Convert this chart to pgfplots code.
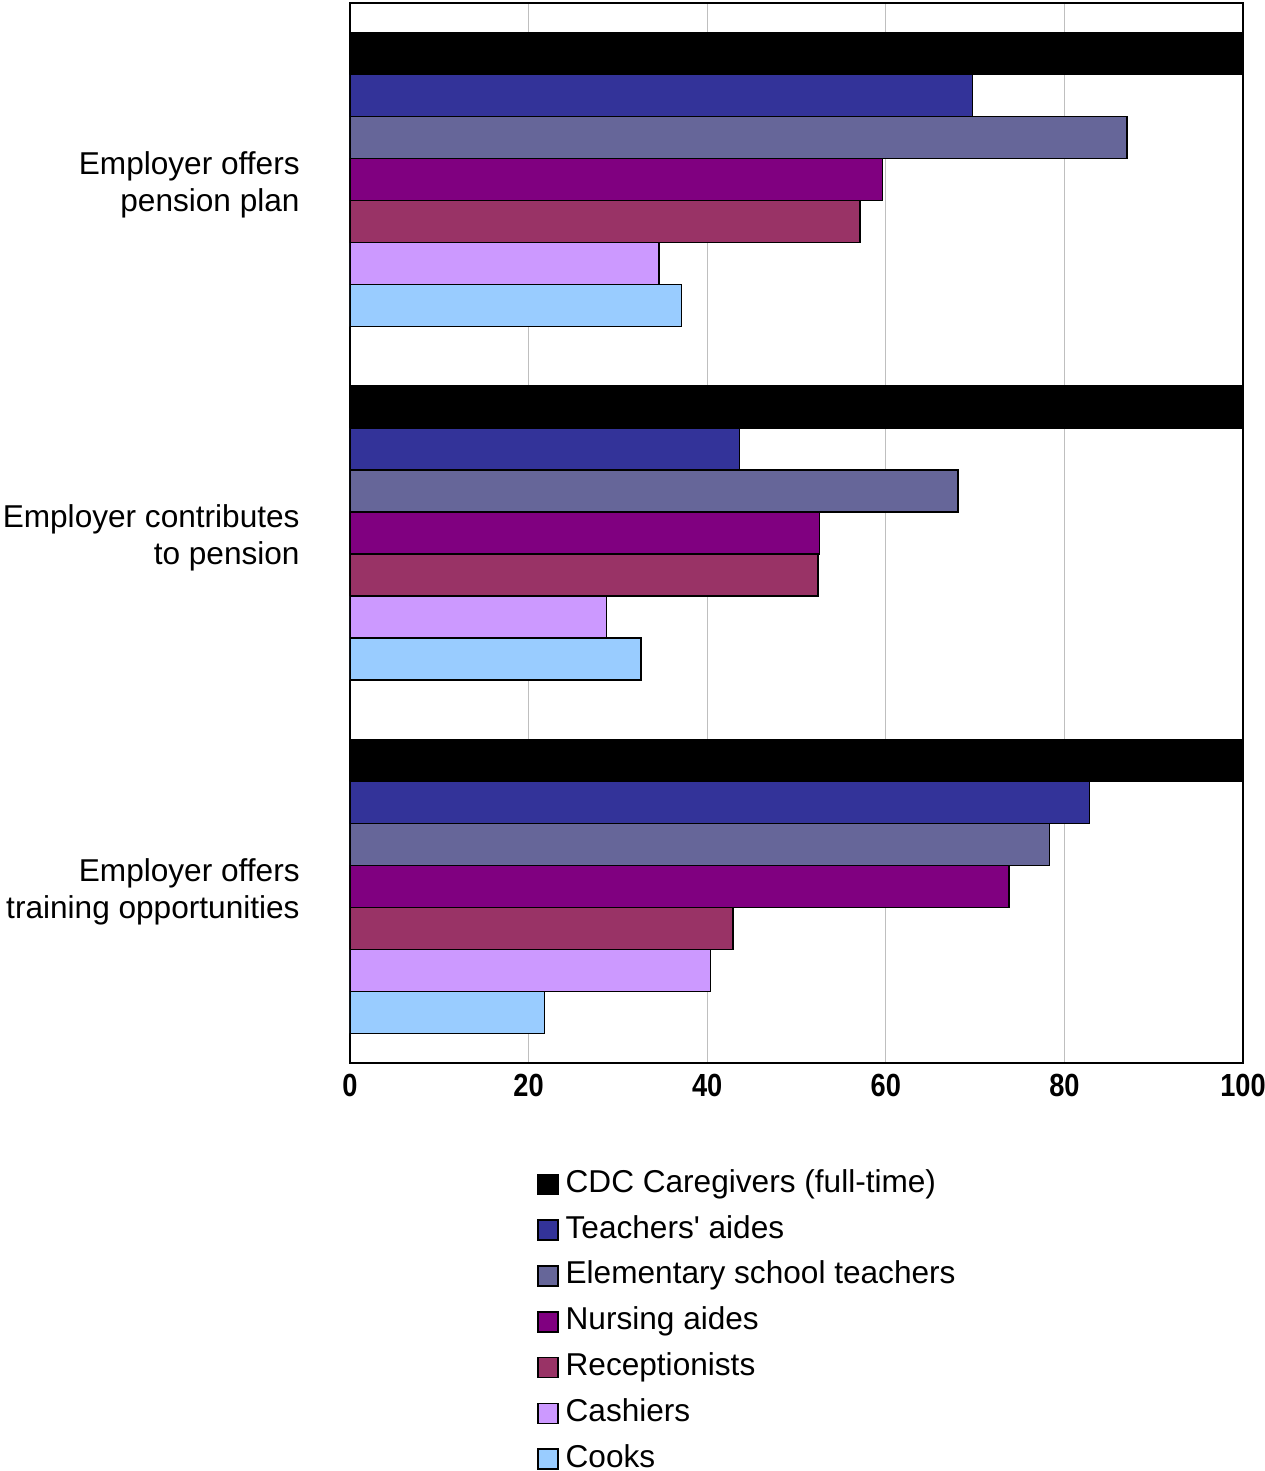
\documentclass[border=0pt]{standalone}
\usepackage{fontspec}
\setmainfont{Liberation Sans}
\usepackage{graphicx}
\usepackage{pgfplots}
\pgfplotsset{compat=1.18}
\definecolor{cTA}{HTML}{333399}
\definecolor{cEST}{HTML}{666699}
\definecolor{cNA}{HTML}{800080}
\definecolor{cRE}{HTML}{993366}
\definecolor{cCA}{HTML}{CC99FF}
\definecolor{cCO}{HTML}{99CCFF}
\begin{document}
\fontsize{15.8}{18.5}\selectfont
\begin{tikzpicture}
\begin{axis}[
  at={(0,0)}, anchor=south west,
  width=446.5pt, height=530pt, scale only axis,
  xbar, bar width=21pt,
  xmin=0, xmax=100, ymin=-0.5, ymax=2.5,
  xtick={0,20,40,60,80,100},
  ytick={0,1,2},
  /pgf/number format/assume math mode=true,
  yticklabels={{Employer offers\\training opportunities},{Employer contributes\\to pension},{Employer offers\\pension plan}},
  yticklabel style={align=right, inner sep=0pt, xshift=-25pt, yshift=-2.5pt, font=\fontsize{15.8}{18.5}\selectfont},
  xticklabel style={font=\bfseries\fontsize{16}{19}\selectfont, inner sep=0pt, yshift=-5.5pt},
  xticklabel={\scalebox{0.85}[1]{\bfseries\pgfmathprintnumber{\tick}}},
  major tick length=0pt,
  xmajorgrids, grid style={color=black!25, line width=0.6pt},
  axis line style={line width=1pt},
  legend style={at={(0.209,-0.0962)}, anchor=north west, draw=none, fill=none,
    inner sep=0pt, row sep=3.9pt, font=\fontsize{15.8}{18.5}\selectfont,
    nodes={inner sep=2pt, text height=11.5pt, text depth=3.5pt}},
  legend cell align=left,
  legend image code/.code={\draw[#1, line width=0.8pt] (0pt,-5pt) rectangle (10pt,5pt);},
  every axis plot/.append style={draw=black, line width=0.7pt},
]
\addplot[fill=black, bar shift=63pt] coordinates {(100,2) (100,1) (100,0)};
\addplot[fill=cTA, bar shift=42pt] coordinates {(69.7,2) (43.6,1) (82.8,0)};
\addplot[fill=cEST, bar shift=21pt] coordinates {(87.0,2) (68.1,1) (78.3,0)};
\addplot[fill=cNA, bar shift=0pt] coordinates {(59.6,2) (52.6,1) (73.8,0)};
\addplot[fill=cRE, bar shift=-21pt] coordinates {(57.1,2) (52.4,1) (42.9,0)};
\addplot[fill=cCA, bar shift=-42pt] coordinates {(34.6,2) (28.7,1) (40.4,0)};
\addplot[fill=cCO, bar shift=-63pt] coordinates {(37.1,2) (32.6,1) (21.8,0)};
\legend{\hspace{1.5pt}CDC Caregivers (full-time),\hspace{1.5pt}Teachers\textquotesingle{} aides,\hspace{1.5pt}Elementary school teachers,\hspace{1.5pt}Nursing aides,\hspace{1.5pt}Receptionists,\hspace{1.5pt}Cashiers,\hspace{1.5pt}Cooks}
\end{axis}
\pgfresetboundingbox
\path[use as bounding box] (-175pt,-204pt) rectangle (457pt,531.5pt);
\end{tikzpicture}
\end{document}
